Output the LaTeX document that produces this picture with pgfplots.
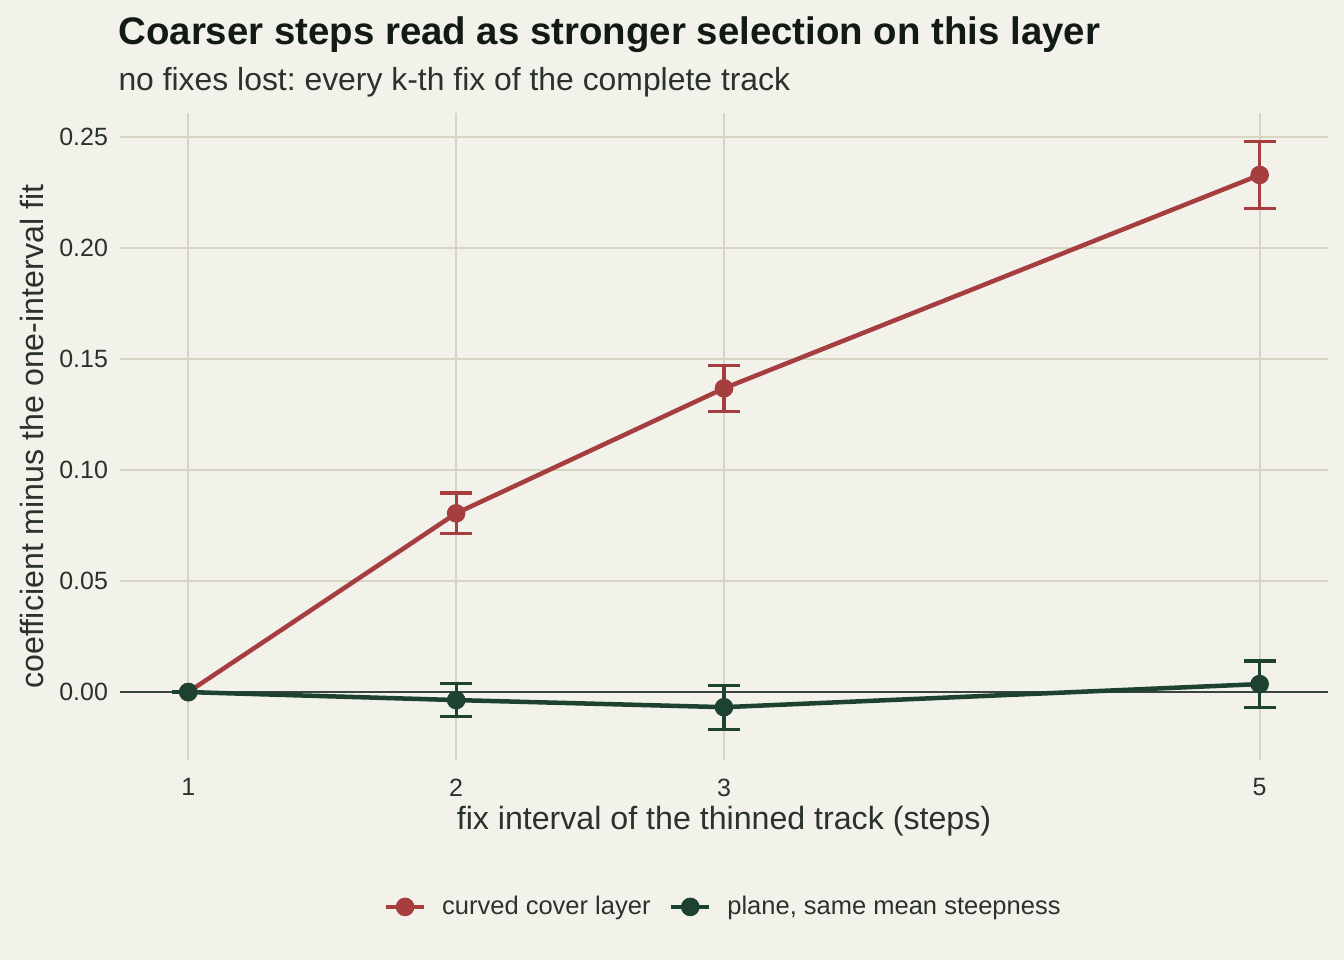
\documentclass[border=0pt]{standalone}
\usepackage{pgfplots}
\pgfplotsset{compat=1.18}
\usepackage{fontspec}
\setmainfont{Liberation Sans}
\frenchspacing

\definecolor{bg}{HTML}{F2F1EA}
\definecolor{gridc}{HTML}{D6D5C4}
\definecolor{zeroc}{HTML}{3A4540}
\definecolor{redc}{HTML}{A63D3F}
\definecolor{greenc}{HTML}{1E4230}
\definecolor{txt}{HTML}{2A322D}
\definecolor{ttl}{HTML}{121A15}

% 1pt = 2.657px (1344px wide picture)
\begin{document}
\begin{tikzpicture}
\fill[bg] (0,0) rectangle (505.8pt,361.3pt);
\node[anchor=base west, font=\bfseries\fontsize{14.45}{17}\selectfont, text=ttl, inner sep=0pt] at (44.4pt,344.4pt) {Coarser steps read as stronger selection on this layer};
\node[anchor=base west, font=\fontsize{12.0}{14}\selectfont, text=txt, inner sep=0pt] at (44.4pt,327.4pt) {no fixes lost: every k-th fix of the complete track};
\begin{axis}[
  at={(45.16pt,75.27pt)}, anchor=south west,
  scale only axis, width=454.6pt, height=243.5pt,
  xmin=0.745, xmax=5.255, ymin=-0.0306, ymax=0.2608,
  xtick={1,2,3,5}, ytick={0,0.05,0.1,0.15,0.2,0.25},
  yticklabel style={/pgf/number format/.cd, fixed, fixed zerofill, precision=2, /tikz/.cd, xshift=-1pt},
  /pgf/number format/assume math mode=true,
  ticklabel style={font=\fontsize{9.4}{11}\selectfont, text=txt},
  axis line style={draw=none}, tick style={draw=none},
  major tick length=0pt,
  grid=major, major grid style={color=gridc, line width=0.75pt},
  extra y ticks={0}, extra y tick labels={},
  extra y tick style={grid=major, major grid style={color=zeroc, line width=0.6pt}},
  xticklabel style={yshift=-3.5pt},
  xlabel={fix interval of the thinned track (steps)},
  ylabel={coefficient minus the one-interval fit},
  label style={font=\fontsize{12.1}{14}\selectfont, text=txt},
  xlabel style={yshift=3pt},
  ylabel style={yshift=-1pt},
  legend style={at={(0.5008,-0.227)}, anchor=center, draw=none, fill=none,
    font=\fontsize{9.6}{11}\selectfont, text=txt, legend columns=2,
    /tikz/every odd column/.append style={column sep=4pt},
    /tikz/every even column/.append style={column sep=5pt}},
  legend cell align=left,
  legend image code/.code={
    \draw[mark repeat=2, mark phase=2, #1] plot coordinates {(0pt,0pt) (7.1pt,0pt) (14.2pt,0pt)};
  },
]
\addplot[redc, line width=1.7pt, mark=*, mark size=3.3pt, mark options={line width=0.4pt},
  error bars/.cd, y dir=both, y explicit,
  error bar style={line width=1.2pt, redc},
  error mark options={line width=1.2pt, redc, mark size=6pt, rotate=90}]
  coordinates {
  (1,0) +- (0,0)
  (2,0.0805) +- (0,0.0092)
  (3,0.1368) +- (0,0.0104)
  (5,0.2329) +- (0,0.0150)
};
\addlegendentry{curved cover layer}
\addplot[greenc, line width=1.7pt, mark=*, mark size=3.3pt, mark options={line width=0.4pt},
  error bars/.cd, y dir=both, y explicit,
  error bar style={line width=1.2pt, greenc},
  error mark options={line width=1.2pt, greenc, mark size=6pt, rotate=90}]
  coordinates {
  (1,0) +- (0,0)
  (2,-0.0036) +- (0,0.0074)
  (3,-0.0068) +- (0,0.0099)
  (5,0.0036) +- (0,0.0104)
};
\addlegendentry{plane, same mean steepness}
\end{axis}
\end{tikzpicture}
\end{document}
